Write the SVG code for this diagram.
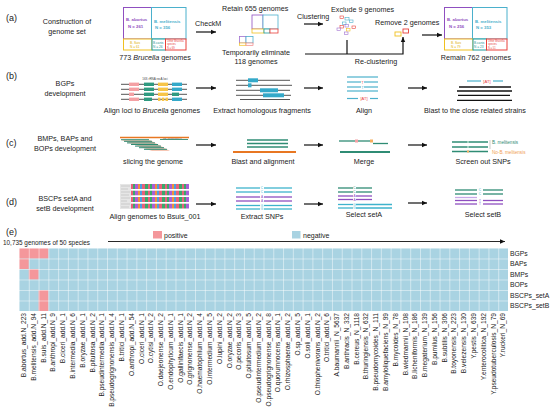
<svg xmlns="http://www.w3.org/2000/svg" width="550" height="411" viewBox="0 0 550 411">
<defs>
<marker id="ah" markerWidth="6" markerHeight="6" refX="5" refY="3" orient="auto" markerUnits="userSpaceOnUse"><path d="M0,0.8 L5,3 L0,5.2 Z" fill="#111"/></marker>
<pattern id="grid" x="19" y="248" width="9.78" height="10.5" patternUnits="userSpaceOnUse"><path d="M0,0 H9.78 M0,0 V10.5" stroke="#ffffff" stroke-width="0.9" fill="none"/></pattern>
<pattern id="aln" x="131" y="0" width="17" height="4" patternUnits="userSpaceOnUse">
<rect x="0" y="0" width="2" height="4" fill="#e8607a"/><rect x="2" y="0" width="2" height="4" fill="#3aa86b"/><rect x="4" y="0" width="3" height="4" fill="#a95fd6"/><rect x="7" y="0" width="2" height="4" fill="#f0913a"/><rect x="9" y="0" width="2" height="4" fill="#4a9fe0"/><rect x="11" y="0" width="3" height="4" fill="#e8607a"/><rect x="14" y="0" width="3" height="4" fill="#3aa86b"/></pattern>
<style>
text{font-family:"Liberation Sans",Arial,sans-serif;fill:#222}
.t{font-size:7.2px}
.c{text-anchor:middle}
.lab{font-size:9px}
.ar{stroke:#111;stroke-width:1.2;fill:none;marker-end:url(#ah)}
.ln{stroke:#111;stroke-width:1.2;fill:none}
.sp{font-size:6.6px;text-anchor:end}
.rl{font-size:6.8px}
.gl{stroke:#555;stroke-width:1}
.bl{stroke:#4bb0cc;stroke-width:1.2}
.gr{stroke:#2f8c74;stroke-width:1.3}
.pu{stroke:#8f4fc0;stroke-width:1.3}
.cy{stroke:#3eb3cc;stroke-width:1.3}
.kl{stroke:#111;stroke-width:1.3}
</style>
</defs>

<g id="labels">
<text class="lab" x="6" y="21">(a)</text>
<text class="lab" x="6" y="79">(b)</text>
<text class="lab" x="6" y="146">(c)</text>
<text class="lab" x="6" y="205">(d)</text>
<text class="lab" x="6" y="235">(e)</text>
<text class="t c" x="67" y="24">Construction of</text>
<text class="t c" x="67" y="34">genome set</text>
<text class="t c" x="65" y="86">BGPs</text>
<text class="t c" x="65" y="96">development</text>
<text class="t c" x="65" y="141">BMPs, BAPs and</text>
<text class="t c" x="65" y="151">BOPs development</text>
<text class="t c" x="65" y="201">BSCPs setA and</text>
<text class="t c" x="65" y="211">setB development</text>
</g>

<g id="treemap1">
<rect x="123.5" y="7.5" width="28" height="31.5" fill="#fff" stroke="#8f4fc0" stroke-width="1"/>
<rect x="151.5" y="7.5" width="34.5" height="31.5" fill="#fff" stroke="#4bb0cc" stroke-width="1"/>
<rect x="123.5" y="39" width="28.5" height="11" fill="#fff" stroke="#f0c020" stroke-width="1"/>
<rect x="152" y="39" width="13.5" height="11" fill="#fff" stroke="#1d9a9a" stroke-width="1"/>
<rect x="165.5" y="39" width="20.5" height="11" fill="#fff" stroke="#e8403a" stroke-width="1"/>
<text x="126" y="21" font-size="4.3" font-weight="bold" style="fill:#8f4fc0">B. abortus</text>
<text x="128" y="27.5" font-size="4.3" font-weight="bold" style="fill:#8f4fc0">N = 261</text>
<text x="154" y="22.5" font-size="4.3" font-weight="bold" style="fill:#4bb0cc">B. melitensis</text>
<text x="155" y="29" font-size="4.3" font-weight="bold" style="fill:#4bb0cc">N = 356</text>
<text x="130" y="43.5" font-size="3.2" style="fill:#e0b000">B. Suis</text>
<text x="130" y="48" font-size="3.2" style="fill:#e0b000">N = 61</text>
<text x="153" y="43.5" font-size="3.2" style="fill:#1d9a9a">B.canis</text>
<text x="153" y="48" font-size="3.2" style="fill:#1d9a9a">N = 26</text>
<text x="167" y="42" font-size="2.6" style="fill:#e8403a">Other Brucella</text>
<text x="167" y="45.3" font-size="2.6" style="fill:#e8403a">species</text>
<text x="167" y="48.6" font-size="2.6" style="fill:#e8403a">N = 69</text>
<text class="t c" x="155" y="60">773 <tspan font-style="italic">Brucella</tspan> genomes</text>
</g>

<g id="checkm">
<text class="t" x="195" y="26">CheckM</text>
</g>

<g id="retain">
<text class="t" x="222" y="11">Retain 655 genomes</text>
<rect x="252" y="15" width="11" height="14" fill="#fff" stroke="#8f4fc0" stroke-width="0.8"/>
<rect x="263" y="15" width="15" height="14" fill="#fff" stroke="#4bb0cc" stroke-width="0.8"/>
<rect x="252" y="29" width="12" height="4" fill="#fff" stroke="#f0c020" stroke-width="0.8"/>
<rect x="264" y="29" width="6" height="4" fill="#fff" stroke="#1d9a9a" stroke-width="0.8"/>
<rect x="270" y="29" width="8" height="4" fill="#fff" stroke="#e8403a" stroke-width="0.8"/>
</g>

<g id="eliminate">
<rect x="239.5" y="36.5" width="6.5" height="6.5" fill="#fff" stroke="#a070d0" stroke-width="0.8"/>
<rect x="246" y="36.5" width="7" height="6.5" fill="#fff" stroke="#4bb0cc" stroke-width="0.8"/>
<rect x="239.5" y="43" width="6.5" height="2.3" fill="#fff" stroke="#f0c020" stroke-width="0.7"/>
<rect x="246" y="43" width="7" height="2.3" fill="#fff" stroke="#f08080" stroke-width="0.7"/>
<text class="t c" x="256" y="55">Temporarily eliminate</text>
<text class="t c" x="256" y="64">118 genomes</text>
</g>

<g id="clustering">
<text class="t" x="297" y="19">Clustering</text>
</g>

<g id="exclude">
<text class="t" x="331" y="12">Exclude 9 genomes</text>
<rect x="340" y="16" width="3.5" height="2.5" fill="none" stroke="#e8403a" stroke-width="0.6"/>
<rect x="345" y="17.5" width="4" height="2.5" fill="none" stroke="#4bb0cc" stroke-width="0.6"/>
<rect x="349.5" y="20" width="3.5" height="2.5" fill="none" stroke="#4bb0cc" stroke-width="0.6"/>
<rect x="342.5" y="22" width="3.5" height="2.5" fill="none" stroke="#4bb0cc" stroke-width="0.6"/>
<rect x="345" y="24.5" width="3.5" height="2.5" fill="none" stroke="#a070d0" stroke-width="0.6"/>
<rect x="340" y="25.5" width="3.5" height="2.5" fill="none" stroke="#e8403a" stroke-width="0.6"/>
<rect x="337" y="28" width="3.5" height="2.5" fill="none" stroke="#a070d0" stroke-width="0.6"/>
<rect x="352" y="26" width="3.5" height="2.5" fill="none" stroke="#e8403a" stroke-width="0.6"/>
<rect x="346.5" y="28.5" width="3.5" height="2.5" fill="none" stroke="#f0c020" stroke-width="0.6"/>
<rect x="344.5" y="32" width="3.5" height="2.5" fill="none" stroke="#a070d0" stroke-width="0.6"/>
</g>

<g id="remove">
<text class="t" x="375" y="25">Remove 2 genomes</text>
<rect x="395" y="32" width="6" height="4" fill="none" stroke="#f0c020" stroke-width="0.9"/>
<rect x="403" y="29" width="5.5" height="4" fill="none" stroke="#e8403a" stroke-width="0.9"/>
<text class="t c" x="376" y="64">Re-clustering</text>
</g>

<g id="treemap2">
<rect x="444.5" y="7.5" width="28" height="31.5" fill="#fff" stroke="#8f4fc0" stroke-width="1"/>
<rect x="472.5" y="7.5" width="34.5" height="31.5" fill="#fff" stroke="#4bb0cc" stroke-width="1"/>
<rect x="444.5" y="39" width="28.5" height="11" fill="#fff" stroke="#f0c020" stroke-width="1"/>
<rect x="473" y="39" width="13.5" height="11" fill="#fff" stroke="#1d9a9a" stroke-width="1"/>
<rect x="486.5" y="39" width="20.5" height="11" fill="#fff" stroke="#e8403a" stroke-width="1"/>
<text x="447" y="21" font-size="4.3" font-weight="bold" style="fill:#8f4fc0">B. abortus</text>
<text x="449" y="27.5" font-size="4.3" font-weight="bold" style="fill:#8f4fc0">N = 256</text>
<text x="475" y="22.5" font-size="4.3" font-weight="bold" style="fill:#4bb0cc">B. melitensis</text>
<text x="476" y="29" font-size="4.3" font-weight="bold" style="fill:#4bb0cc">N = 353</text>
<text x="451" y="43.5" font-size="3.2" style="fill:#e0b000">B. Suis</text>
<text x="451" y="48" font-size="3.2" style="fill:#e0b000">N = 79</text>
<text x="474" y="43.5" font-size="3.2" style="fill:#1d9a9a">B.canis</text>
<text x="474" y="48" font-size="3.2" style="fill:#1d9a9a">N = 23</text>
<text x="488" y="42" font-size="2.6" style="fill:#e8403a">Other Brucella</text>
<text x="488" y="45.3" font-size="2.6" style="fill:#e8403a">species</text>
<text x="488" y="48.6" font-size="2.6" style="fill:#e8403a">N = 51</text>
<text class="t c" x="476" y="60">Remain 762 genomes</text>
</g>

<g id="bgps-align">
<text x="155" y="79.5" font-size="3" class="c" style="fill:#444">16S rRNA  recA  loci</text>
<line class="gl" x1="121" y1="84.3" x2="187" y2="84.3"/>
<line class="gl" x1="121" y1="89.3" x2="187" y2="89.3"/>
<line class="gl" x1="121" y1="94.3" x2="187" y2="94.3"/>
<line class="gl" x1="121" y1="99.3" x2="187" y2="99.3"/>
<g fill="#f4a0a4"><rect x="129" y="82.6" width="10" height="3.4"/><rect x="129" y="87.6" width="10" height="3.4"/><rect x="129" y="92.6" width="5" height="3.4"/><rect x="129" y="97.6" width="10" height="3.4"/></g>
<g fill="#2f9a80"><rect x="144" y="82.6" width="10" height="3.4"/><rect x="144" y="87.6" width="10" height="3.4"/><rect x="144" y="92.6" width="10" height="3.4"/><rect x="144" y="97.6" width="8" height="3.4"/><rect x="172" y="92.6" width="7" height="3.4"/></g>
<g fill="#f7c548"><rect x="158" y="82.6" width="10" height="3.4"/><rect x="158" y="87.6" width="10" height="3.4"/><rect x="158" y="92.6" width="10" height="3.4"/><rect x="158" y="97.6" width="2.5" height="3.4"/><rect x="161.8" y="97.6" width="2.5" height="3.4"/><rect x="165.5" y="97.6" width="2.5" height="3.4"/></g>
<g fill="#34a9c9"><rect x="172" y="82.6" width="10" height="3.4"/><rect x="172" y="87.6" width="10" height="3.4"/><rect x="172" y="97.6" width="10" height="3.4"/></g>
<text class="t c" x="152" y="113">Align loci to <tspan font-style="italic">Brucella</tspan> genomes</text>
</g>

<g id="bgps-extract">
<line class="gl" x1="236" y1="80.3" x2="290" y2="80.3"/>
<line class="gl" x1="236" y1="85.3" x2="292" y2="85.3"/>
<line class="gl" x1="236" y1="90.3" x2="290" y2="90.3"/>
<line class="gl" x1="236" y1="95.3" x2="291" y2="95.3"/>
<line class="gl" x1="240" y1="99.5" x2="290" y2="99.5"/>
<g fill="#34a9c9"><rect x="248" y="78.3" width="10" height="4"/><rect x="248" y="83.3" width="3.5" height="4"/><rect x="260" y="88.3" width="18" height="4"/><rect x="263" y="93.3" width="21" height="4"/></g>
<text class="t c" x="262" y="113">Extract homologous fragments</text>
</g>

<g id="bgps-alignfrag">
<line class="bl" x1="347" y1="77" x2="378" y2="77"/>
<line class="bl" x1="347" y1="82" x2="361" y2="82"/><line class="bl" x1="364" y1="82" x2="378" y2="82"/>
<line class="bl" x1="347" y1="87" x2="361" y2="87"/><line class="bl" x1="364" y1="87" x2="378" y2="87"/>
<line class="bl" x1="347" y1="91" x2="378" y2="91"/>
<line class="bl" x1="347" y1="98.5" x2="358" y2="98.5"/><line class="bl" x1="370" y1="98.5" x2="378" y2="98.5"/>
<text x="362.5" y="84" font-size="3.4" class="c" style="fill:#e8403a">T</text>
<text x="362.5" y="89" font-size="3.4" class="c" style="fill:#4bb0cc">T</text>
<text x="364" y="100" font-size="4" class="c" style="fill:#e8403a">[AT]</text>
<text class="t c" x="364" y="113">Align</text>
</g>

<g id="bgps-blast">
<line class="bl" x1="467" y1="81" x2="481" y2="81"/><line class="bl" x1="493" y1="81" x2="503" y2="81"/>
<text x="487" y="82.5" font-size="4.2" class="c" style="fill:#e8403a">[AT]</text>
<line class="kl" x1="459" y1="87" x2="511" y2="87"/>
<line class="kl" x1="457" y1="91" x2="512" y2="91"/>
<line class="kl" x1="458" y1="95.3" x2="510" y2="95.3"/>
<line class="kl" x1="457" y1="100.3" x2="512" y2="100.3"/>
<text class="t c" x="475" y="113">Blast to the close related strains</text>
</g>

<g id="c-slice">
<line x1="120" y1="137.5" x2="189" y2="137.5" stroke="#e87722" stroke-width="1.6"/>
<polygon points="121,140 150,140 170,151 152,151" fill="#f6c7b5"/>
<g fill="#2f8c74">
<rect x="121" y="139.2" width="28" height="1"/>
<rect x="124" y="140.8" width="28" height="1"/>
<rect x="127" y="142.4" width="28" height="1"/>
<rect x="131" y="144" width="27" height="1"/>
<rect x="135" y="145.6" width="26" height="1"/>
<rect x="139" y="147.2" width="25" height="1"/>
<rect x="144" y="148.8" width="23" height="1"/>
</g>
<rect x="160" y="139" width="28" height="0.9" fill="#2f8c74"/>
<text x="163" y="138.6" font-size="2.4" style="fill:#555">NZ_000000000.1</text>
<text class="t c" x="153" y="164">slicing the genome</text>
</g>

<g id="c-blast">
<line class="gr" x1="247" y1="140" x2="288" y2="140"/>
<line class="gr" x1="247" y1="143.5" x2="288" y2="143.5"/>
<line class="gr" x1="247" y1="147" x2="288" y2="147"/>
<line x1="233" y1="152" x2="296" y2="152" stroke="#e87722" stroke-width="2"/>
<text class="t c" x="263" y="164">Blast and alignment</text>
</g>

<g id="c-merge">
<line class="gr" x1="339" y1="141" x2="356" y2="141"/>
<rect x="355" y="139.5" width="3" height="3" fill="#f4a0a4"/>
<line class="gr" x1="358" y1="141" x2="371" y2="141"/>
<rect x="370" y="139.5" width="3" height="3" fill="#f6b060"/>
<line class="gr" x1="373" y1="143.5" x2="388" y2="143.5"/>
<line x1="340" y1="152" x2="390" y2="152" stroke="#2f8c74" stroke-width="2"/>
<text class="t c" x="364" y="164">Merge</text>
</g>

<g id="c-screen">
<line class="gr" x1="452" y1="142" x2="488" y2="142"/>
<line class="gr" x1="452" y1="147" x2="488" y2="147"/>
<line class="gr" x1="452" y1="151.5" x2="488" y2="151.5"/>
<rect x="467" y="141" width="2" height="2" fill="#9fd0c0"/>
<rect x="467" y="146" width="2" height="2" fill="#9fd0c0"/>
<rect x="467" y="150.5" width="2" height="2" fill="#f6b060"/>
<line x1="490" y1="140" x2="490" y2="149" stroke="#999" stroke-width="0.5"/>
<text x="492" y="144" font-size="4.6" style="fill:#2f8c74">B. melitensis</text>
<text x="492" y="154" font-size="4.6" style="fill:#f0a050">No-B. melitensis</text>
<text class="t c" x="483" y="164">Screen out SNPs</text>
</g>

<g id="d-align">
<rect x="120" y="184" width="12" height="25" fill="#e6e6e6"/>
<g stroke="#bbb" stroke-width="0.6"><line x1="121" y1="186" x2="130" y2="186"/><line x1="121" y1="189" x2="128" y2="189"/><line x1="121" y1="192" x2="130" y2="192"/><line x1="121" y1="195" x2="129" y2="195"/><line x1="121" y1="198" x2="130" y2="198"/><line x1="121" y1="201" x2="127" y2="201"/><line x1="121" y1="204" x2="130" y2="204"/><line x1="121" y1="207" x2="129" y2="207"/></g>
<rect x="131" y="184" width="58" height="5" fill="url(#aln)"/>
<rect x="131" y="190.5" width="58" height="5" fill="url(#aln)"/>
<rect x="131" y="197" width="58" height="5" fill="url(#aln)"/>
<rect x="131" y="203.5" width="58" height="5" fill="url(#aln)"/>
<g fill="#fff" opacity="0.75"><rect x="131" y="189" width="58" height="1.5"/><rect x="131" y="195.5" width="58" height="1.5"/><rect x="131" y="202" width="58" height="1.5"/></g>
<text class="t c" x="155" y="219">Align genomes to Bsuis_001</text>
</g>

<g id="d-extract">
<line class="cy" x1="236" y1="188" x2="260" y2="188"/><line class="cy" x1="264" y1="188" x2="292" y2="188"/>
<line class="cy" x1="236" y1="192" x2="260" y2="192"/><line class="cy" x1="264" y1="192" x2="292" y2="192"/>
<line class="pu" x1="236" y1="197" x2="260" y2="197"/><line class="pu" x1="264" y1="197" x2="292" y2="197"/>
<line class="pu" x1="236" y1="201" x2="260" y2="201"/><line class="pu" x1="264" y1="201" x2="292" y2="201"/>
<line class="cy" x1="236" y1="205.5" x2="260" y2="205.5"/><line class="cy" x1="264" y1="205.5" x2="292" y2="205.5"/>
<line class="cy" x1="236" y1="209" x2="260" y2="209"/><line class="cy" x1="264" y1="209" x2="292" y2="209"/>
<g font-size="3.2" class="c"><text x="262" y="189.2" style="fill:#3eb3cc">C</text><text x="262" y="193.2" style="fill:#3eb3cc">C</text><text x="262" y="198.2" style="fill:#8f4fc0">A</text><text x="262" y="202.2" style="fill:#8f4fc0">A</text><text x="262" y="206.7" style="fill:#3eb3cc">G</text><text x="262" y="210.2" style="fill:#3eb3cc">G</text></g>
<text class="t c" x="262" y="219">Extract SNPs</text>
</g>

<g id="d-seta">
<line class="gr" x1="338" y1="188" x2="353" y2="188"/><line class="gr" x1="356" y1="188" x2="372" y2="188"/>
<line class="gr" x1="338" y1="192" x2="353" y2="192"/><line class="gr" x1="356" y1="192" x2="372" y2="192"/>
<line class="pu" x1="338" y1="196" x2="353" y2="196"/><line class="pu" x1="356" y1="196" x2="372" y2="196"/>
<line class="pu" x1="338" y1="199.5" x2="353" y2="199.5"/><line class="pu" x1="356" y1="199.5" x2="372" y2="199.5"/>
<line class="cy" x1="338" y1="204.5" x2="353" y2="204.5"/><line class="cy" x1="356" y1="204.5" x2="392" y2="204.5"/>
<line class="cy" x1="338" y1="208" x2="353" y2="208"/><line class="cy" x1="356" y1="208" x2="392" y2="208"/>
<g font-size="3.2" class="c"><text x="354.5" y="189.2" style="fill:#2f8c74">C</text><text x="354.5" y="193.2" style="fill:#2f8c74">C</text><text x="354.5" y="197.2" style="fill:#8f4fc0">A</text><text x="354.5" y="200.7" style="fill:#8f4fc0">A</text><text x="354.5" y="205.7" style="fill:#3eb3cc">G</text><text x="354.5" y="209.2" style="fill:#3eb3cc">G</text></g>
<text class="t c" x="364" y="217">Select setA</text>
</g>

<g id="d-setb">
<line class="gr" x1="455" y1="190" x2="477" y2="190"/><line class="gr" x1="483" y1="190" x2="503" y2="190"/>
<line class="gr" x1="455" y1="194" x2="477" y2="194"/><line class="gr" x1="483" y1="194" x2="503" y2="194"/>
<line x1="455" y1="197.5" x2="477" y2="197.5" stroke="#c8a8e8" stroke-width="1.3"/>
<line class="pu" x1="455" y1="200.5" x2="477" y2="200.5"/><line class="pu" x1="483" y1="200.5" x2="503" y2="200.5"/>
<line class="pu" x1="455" y1="204" x2="477" y2="204"/><line class="pu" x1="483" y1="204" x2="503" y2="204"/>
<g font-size="3.2" class="c"><text x="480" y="191.2" style="fill:#3eb3cc">C</text><text x="480" y="195.2" style="fill:#3eb3cc">C</text><text x="480" y="201.7" style="fill:#8f4fc0">T</text><text x="480" y="205.2" style="fill:#8f4fc0">T</text></g>
<text class="t c" x="483" y="217">Select setB</text>
</g>

<g id="connectors">
<line class="ar" x1="196" y1="32" x2="216" y2="32"/>
<line class="ar" x1="304" y1="24" x2="323" y2="24"/>
<polyline class="ln" points="347,40 347,54"/>
<polyline class="ar" points="305,54 403,54 403,37"/>
<line class="ar" x1="422" y1="35" x2="442" y2="35"/>
<line class="ar" x1="196" y1="88" x2="216" y2="88"/>
<line class="ar" x1="304" y1="88" x2="323" y2="88"/>
<line class="ar" x1="408" y1="88" x2="427" y2="88"/>
<line class="ar" x1="196" y1="145" x2="216" y2="145"/>
<line class="ar" x1="304" y1="145" x2="323" y2="145"/>
<line class="ar" x1="408" y1="145" x2="427" y2="145"/>
<line class="ar" x1="196" y1="204" x2="216" y2="204"/>
<line class="ar" x1="304" y1="204" x2="323" y2="204"/>
<line class="ar" x1="408" y1="203" x2="427" y2="203"/>
<line x1="108" y1="241.5" x2="505" y2="241.5" stroke="#111" stroke-width="0.9" marker-end="url(#ah)"/>
</g>

<g id="legend">
<rect x="153" y="231" width="9" height="7.5" fill="#f4979b"/>
<text x="164" y="237.5" font-size="7">positive</text>
<rect x="292" y="231" width="8.5" height="7.5" fill="#a9d3e2"/>
<text x="303" y="237.5" font-size="7">negative</text>
<text x="3" y="244.5" font-size="6.4">10,735 genomes of 50 species</text>
</g>

<g id="heatmap">
<rect x="19" y="248" width="489" height="63" fill="#a9d3e2"/>
<g fill="#f4979b">
<rect x="19" y="248" width="29.34" height="10.5"/>
<rect x="19" y="258.5" width="9.78" height="10.5"/>
<rect x="28.78" y="269" width="9.78" height="10.5"/>
<rect x="38.56" y="290" width="9.78" height="21"/>
</g>
<rect x="19" y="248" width="489" height="63" fill="url(#grid)"/>
<g class="rl">
<text x="510" y="255.5" font-size="6.8">BGPs</text>
<text x="510" y="266" font-size="6.8">BAPs</text>
<text x="510" y="276.5" font-size="6.8">BMPs</text>
<text x="510" y="287" font-size="6.8">BOPs</text>
<text x="510" y="297.5" font-size="6.8">BSCPs_setA</text>
<text x="510" y="308" font-size="6.8">BSCPs_setB</text>
</g>
</g>

<g id="species">
<text class="sp" transform="translate(26.1,313) rotate(-90)">B.abortus_add.N_223</text>
<text class="sp" transform="translate(35.9,313) rotate(-90)">B.melitensis_add.N_94</text>
<text class="sp" transform="translate(45.7,313) rotate(-90)">B.suis_add.N_11</text>
<text class="sp" transform="translate(55.4,313) rotate(-90)">B.anthropi_add.N_9</text>
<text class="sp" transform="translate(65.2,313) rotate(-90)">B.ciceri_add.N_1</text>
<text class="sp" transform="translate(75.0,313) rotate(-90)">B.intermedia_add.N_6</text>
<text class="sp" transform="translate(84.8,313) rotate(-90)">B.oryzae_add.N_1</text>
<text class="sp" transform="translate(94.6,313) rotate(-90)">B.pituitosa_add.N_2</text>
<text class="sp" transform="translate(104.3,313) rotate(-90)">B.pseudintermedia_add.N_1</text>
<text class="sp" transform="translate(114.1,313) rotate(-90)">B.pseudogrignonensis_add.N_4</text>
<text class="sp" transform="translate(123.9,313) rotate(-90)">B.tritici_add.N_1</text>
<text class="sp" transform="translate(133.7,313) rotate(-90)">O.anthropi_add.N_54</text>
<text class="sp" transform="translate(143.5,313) rotate(-90)">O.ciceri_add.N_1</text>
<text class="sp" transform="translate(153.2,313) rotate(-90)">O.cytisi_add.N_2</text>
<text class="sp" transform="translate(163.0,313) rotate(-90)">O.daejeonense_add.N_2</text>
<text class="sp" transform="translate(172.8,313) rotate(-90)">O.endophyticum_add.N_1</text>
<text class="sp" transform="translate(182.6,313) rotate(-90)">O.gallinifaecis_add.N_1</text>
<text class="sp" transform="translate(192.4,313) rotate(-90)">O.grignonense_add.N_2</text>
<text class="sp" transform="translate(202.1,313) rotate(-90)">O.haematophilum_add.N_4</text>
<text class="sp" transform="translate(211.9,313) rotate(-90)">O.intermedium_add.N_5</text>
<text class="sp" transform="translate(221.7,313) rotate(-90)">O.lupini_add.N_2</text>
<text class="sp" transform="translate(231.5,313) rotate(-90)">O.oryzae_add.N_2</text>
<text class="sp" transform="translate(241.3,313) rotate(-90)">O.pecoris_add.N_3</text>
<text class="sp" transform="translate(251.0,313) rotate(-90)">O.pituitosum_add.N_5</text>
<text class="sp" transform="translate(260.8,313) rotate(-90)">O.pseudintermedium_add.N_2</text>
<text class="sp" transform="translate(270.6,313) rotate(-90)">O.pseudogrignonense_add.N_8</text>
<text class="sp" transform="translate(280.4,313) rotate(-90)">O.quorumnocens_add.N_1</text>
<text class="sp" transform="translate(290.2,313) rotate(-90)">O.rhizosphaerae_add.N_2</text>
<text class="sp" transform="translate(299.9,313) rotate(-90)">O.sp_add.N_5</text>
<text class="sp" transform="translate(309.7,313) rotate(-90)">O.soli_add.N_1</text>
<text class="sp" transform="translate(319.5,313) rotate(-90)">O.thiophenivorans_add.N_2</text>
<text class="sp" transform="translate(329.3,313) rotate(-90)">O.tritici_add.N_6</text>
<text class="sp" transform="translate(339.1,313) rotate(-90)">A.baumannii_N_5637</text>
<text class="sp" transform="translate(348.8,313) rotate(-90)">B.anthracis_N_332</text>
<text class="sp" transform="translate(358.6,313) rotate(-90)">B.cereus_N_1118</text>
<text class="sp" transform="translate(368.4,313) rotate(-90)">B.thuringiensis_N_632</text>
<text class="sp" transform="translate(378.2,313) rotate(-90)">B.pseudomycoides_N_111</text>
<text class="sp" transform="translate(388.0,313) rotate(-90)">B.amyloliquefaciens_N_99</text>
<text class="sp" transform="translate(397.7,313) rotate(-90)">B.mycoides_N_78</text>
<text class="sp" transform="translate(407.5,313) rotate(-90)">B.wiedmannii_N_108</text>
<text class="sp" transform="translate(417.3,313) rotate(-90)">B.licheniformis_N_186</text>
<text class="sp" transform="translate(427.1,313) rotate(-90)">B.megaterium_N_139</text>
<text class="sp" transform="translate(436.9,313) rotate(-90)">B.pumilus_N_156</text>
<text class="sp" transform="translate(446.6,313) rotate(-90)">B.subtilis_N_306</text>
<text class="sp" transform="translate(456.4,313) rotate(-90)">B.toyonensis_N_223</text>
<text class="sp" transform="translate(466.2,313) rotate(-90)">B.velezensis_N_130</text>
<text class="sp" transform="translate(476.0,313) rotate(-90)">Y.pestis_N_639</text>
<text class="sp" transform="translate(485.8,313) rotate(-90)">Y.enterocolitica_N_192</text>
<text class="sp" transform="translate(495.5,313) rotate(-90)">Y.pseudotuberculosis_N_79</text>
<text class="sp" transform="translate(505.3,313) rotate(-90)">Y.ruckeri_N_69</text>
</g>
</svg>
